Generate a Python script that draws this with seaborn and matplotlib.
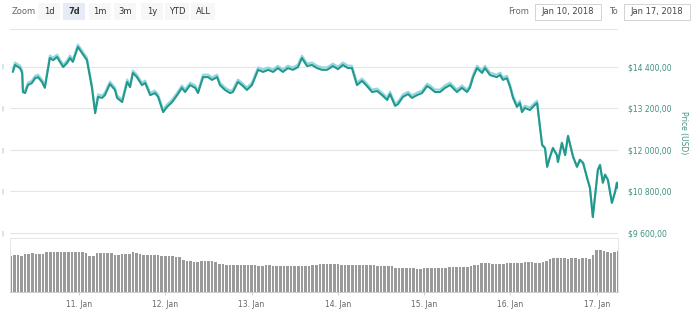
import numpy as np
import pandas as pd
import matplotlib
matplotlib.use('Agg')
import matplotlib.pyplot as plt
from matplotlib.patches import Rectangle
from matplotlib.lines import Line2D
import seaborn as sns

# hours since 10 Jan 2018 00:00
hours = [5.6, 6.2, 7.6, 8.2, 8.4, 9.0, 9.8, 10.9, 11.8, 12.6,
         13.7, 14.5, 15.9, 16.8, 17.9, 18.7, 19.6, 20.7, 21.5, 22.3,
         23.7, 24.8, 26.2, 27.6, 28.5, 29.3, 30.4, 31.2, 32.6, 34.0,
         34.6, 36.0, 37.4, 38.2, 39.0, 40.1, 41.5, 42.4, 43.8, 45.1,
         46.0, 47.4, 48.5, 49.9, 51.3, 52.6, 53.5, 54.9, 56.3, 57.1,
         58.5, 59.9, 61.0, 62.4, 63.2, 64.6, 66.0, 66.8, 68.2, 69.3,
         70.7, 72.1, 73.8, 75.2, 76.6, 78.0, 79.3, 80.7, 82.1, 83.5,
         84.9, 86.0, 87.4, 88.8, 90.2, 91.6, 93.0, 94.6, 96.0, 97.4,
         98.8, 99.9, 101.3, 102.7, 104.1, 105.5, 106.9, 108.3, 109.7, 110.5,
         111.9, 112.7, 114.1, 115.5, 116.6, 118.0, 119.4, 120.8, 121.6, 123.0,
         124.4, 125.8, 127.2, 129.1, 130.5, 131.9, 132.7, 133.6, 134.7, 136.1,
         136.9, 138.3, 140.2, 141.1, 141.9, 143.0, 143.9, 144.7, 145.8, 146.6,
         147.2, 148.0, 149.4, 150.8, 151.4, 152.2, 152.8, 153.6, 154.2, 155.0,
         155.8, 156.9, 157.2, 158.3, 159.2, 160.0, 161.4, 162.5, 163.3, 164.2,
         165.3, 166.1, 166.9, 167.5, 168.3, 168.9, 169.7, 170.3, 171.1, 172.2,
         173.1, 173.6, 173.9]

price_main = [14250, 14450, 14360, 14220, 13670, 13640, 13870, 13930, 14070, 14100,
              13960, 13790, 14650, 14590, 14680, 14540, 14390, 14510, 14650, 14540,
              14970, 14800, 14590, 13790, 13060, 13530, 13500, 13580, 13900, 13730,
              13500, 13380, 13960, 13810, 14220, 14100, 13870, 13930, 13580, 13640,
              13530, 13090, 13240, 13380, 13580, 13790, 13670, 13870, 13790, 13640,
              14100, 14100, 14020, 14100, 13870, 13730, 13640, 13670, 13960, 13870,
              13730, 13870, 14310, 14250, 14310, 14250, 14360, 14250, 14360, 14310,
              14390, 14650, 14420, 14450, 14360, 14310, 14310, 14420, 14330, 14450,
              14360, 14360, 13870, 13990, 13840, 13670, 13700, 13580, 13440, 13610,
              13270, 13320, 13530, 13610, 13500, 13580, 13640, 13840, 13790, 13670,
              13670, 13790, 13870, 13670, 13790, 13670, 13790, 14100, 14360, 14220,
              14360, 14160, 14100, 14160, 14020, 14070, 13810, 13500, 13240, 13350,
              13090, 13210, 13150, 13300, 13350, 12660, 12140, 12050, 11510, 11800,
              12050, 11850, 11650, 12200, 11850, 12400, 11800, 11510, 11710, 11620,
              11190, 10900, 10060, 10640, 11420, 11560, 11050, 11280, 11130, 10470,
              10790, 11050, 10900]

price_alt = [14320, 14520, 14430, 14290, 13740, 13710, 13940, 14000, 14140, 14170,
             14030, 13860, 14720, 14660, 14750, 14610, 14460, 14580, 14720, 14610,
             15040, 14870, 14660, 13860, 13130, 13600, 13570, 13650, 13970, 13800,
             13570, 13450, 14030, 13880, 14290, 14170, 13940, 14000, 13650, 13710,
             13600, 13160, 13310, 13450, 13650, 13860, 13740, 13940, 13860, 13710,
             14170, 14170, 14090, 14170, 13940, 13800, 13710, 13740, 14030, 13940,
             13800, 13940, 14380, 14320, 14380, 14320, 14430, 14320, 14430, 14380,
             14460, 14720, 14490, 14520, 14430, 14380, 14380, 14490, 14400, 14520,
             14430, 14430, 13940, 14060, 13910, 13740, 13770, 13650, 13510, 13680,
             13340, 13390, 13600, 13680, 13570, 13650, 13710, 13910, 13860, 13740,
             13740, 13860, 13940, 13740, 13860, 13740, 13860, 14170, 14430, 14290,
             14430, 14230, 14170, 14230, 14090, 14140, 13880, 13570, 13310, 13420,
             13160, 13280, 13220, 13370, 13420, 12675, 12155, 12065, 11525, 11815,
             12065, 11865, 11665, 12215, 11865, 12415, 11815, 11525, 11725, 11635,
             11205, 10915, 10075, 10655, 11435, 11575, 11065, 11295, 11145, 10485,
             10805, 11065, 10915]

# hourly volume (relative units), first bar at 10 Jan 05:00
vol_start_hour = 5
volume = [36.5, 37, 37, 36.5,
          38.5, 38.5, 39, 38.5, 38.5, 38.5,
          40, 40.5, 40.5, 40.5, 40.5, 40.5, 40.5, 40.5, 40.5, 40, 40, 39.5,
          36.5, 36,
          39, 39.5, 39.5, 39.5, 39,
          37, 37,
          38, 38, 38.5,
          40, 39.5,
          38, 37.5, 37.5, 37.5, 37.5, 37,
          36, 36, 36, 36, 35.5, 35.5,
          32, 31, 31, 30.5, 30.5,
          31, 31, 31, 31, 30.5,
          28, 28, 27.5,
          27, 27, 27, 27, 27, 27, 27,
          27, 26.5, 26.5, 27, 27, 26.5, 26.5, 26.5, 26.5, 26.5, 26.5, 26, 26, 26, 26.5, 26.5, 27, 27.5,
          28, 28, 28, 28, 28, 28, 27.5, 27.5, 27.5, 27,
          27, 27, 27, 27, 27, 27, 26.5, 26.5, 26.5, 26.5, 26,
          24.5, 24, 24, 24, 24, 24, 23.5, 23.5, 24, 24, 24, 24, 24, 24, 24.5,
          25, 25.5, 25.5, 25.5, 25.5, 25.5, 26,
          27, 27.5,
          29, 29, 29, 28.5, 28.5, 28.5, 28.5, 29, 29, 29,
          29.5, 29.5, 30, 30, 30, 29.5, 29.5, 30.5,
          31.5, 33,
          34.5, 34, 34, 34, 33.5, 34, 34, 33.5, 34.5, 34, 33.5,
          37,
          42, 42, 41, 40, 39.5, 40.5, 41]

price_ticks = [9600, 10800, 12000, 13200, 14400]
price_labels = ['$9 600,00', '$10 800,00', '$12 000,00', '$13 200,00', '$14 400,00']
day_ticks = [24, 48, 72, 96, 120, 144, 168]
day_labels = ['11. Jan', '12. Jan', '13. Jan', '14. Jan', '15. Jan', '16. Jan', '17. Jan']
buttons = ['1d', '7d', '1m', '3m', '1y', 'YTD', 'ALL']
selected_button = '7d'
date_from = 'Jan 10, 2018'
date_to = 'Jan 17, 2018'

sns.set_theme(style='white')
plt.rcParams['font.family'] = ['DejaVu Sans']

W, H = 700, 319
fig = plt.figure(figsize=(W / 100, H / 100), dpi=100)


def px_axes(x0, y0, x1, y1):
    return fig.add_axes([x0 / W, 1 - y1 / H, (x1 - x0) / W, (y1 - y0) / H])


def fx(x):
    return x / W


def fy(y):
    return 1 - y / H


xlim = (4.81, 173.9)

# ---- price pane
ax = px_axes(10, 36, 618, 236)
n = len(hours)
df = pd.DataFrame({'hour': hours * 2,
                   'price': price_alt + price_main,
                   'series': ['alt'] * n + ['main'] * n})
sns.lineplot(data=df, x='hour', y='price', hue='series',
             palette={'alt': '#92d5e3', 'main': '#22998a'},
             linewidth=1.5, legend=False, ax=ax)
ax.set_xlim(*xlim)
ax.set_ylim(9516, 15286)
ax.set_yticks(price_ticks)
ax.set_yticklabels(price_labels)
ax.yaxis.tick_right()
ax.tick_params(axis='y', length=0, pad=7, labelsize=5.5, labelcolor='#3f8f80')
ax.set_xticks([])
ax.set_xlabel('')
ax.set_ylabel('')
ax.grid(axis='y', color='#e6e6e6', linewidth=0.8)
ax.set_axisbelow(True)
for s in ax.spines.values():
    s.set_visible(False)
# clipped labels of the hidden left axis
for v in price_ticks:
    ax.text(-0.0132, v, '|', transform=ax.get_yaxis_transform(), color='#5b9bd5',
            fontsize=4, ha='center', va='center', clip_on=False)

fig.text(fx(683), fy(133), 'Price (USD)', rotation=270, ha='center', va='center',
         fontsize=5.5, color='#3f8f80')

# ---- volume pane
axv = px_axes(10, 238, 618, 292)
vol_hours = np.arange(len(volume)) + vol_start_hour
axv.bar(vol_hours, volume, width=0.72, color='#9a9a9a', linewidth=0)
axv.set_xlim(*xlim)
axv.set_ylim(0, 54)
axv.set_yticks([])
axv.set_xticks(day_ticks)
axv.set_xticklabels(day_labels)
axv.tick_params(axis='x', bottom=True, length=2.5, width=0.6, color='#cccccc',
                pad=3, labelsize=5.5, labelcolor='#666666')
for name, s in axv.spines.items():
    s.set_color('#e6e6e6' if name != 'bottom' else '#cccccc')
    s.set_linewidth(0.7)

# ---- range selector / inputs
fig.text(fx(12), fy(12), 'Zoom', fontsize=6, color='#666666', va='center', ha='left')
centers = [49, 74, 100, 125, 152, 177, 203]
for lab, cx in zip(buttons, centers):
    w = 22 if len(lab) < 3 else 24
    fc = '#e6ebf5' if lab == selected_button else '#f7f7f7'
    fig.add_artist(Rectangle((fx(cx - w / 2), fy(20)), w / W, 17 / H,
                             transform=fig.transFigure, facecolor=fc, edgecolor='none'))
    fig.text(fx(cx), fy(12), lab, fontsize=6, color='#333333', ha='center', va='center',
             fontweight='bold' if lab == selected_button else 'normal')

fig.text(fx(519), fy(12), 'From', fontsize=6, color='#666666', ha='center', va='center')
fig.text(fx(613), fy(12), 'To', fontsize=6, color='#666666', ha='center', va='center')
for x0, x1, txt in [(535, 601, date_from), (624, 690, date_to)]:
    fig.add_artist(Rectangle((fx(x0), fy(20)), (x1 - x0) / W, 16 / H,
                             transform=fig.transFigure, facecolor='white',
                             edgecolor='#cccccc', linewidth=0.6))
    fig.text(fx((x0 + x1) / 2), fy(12), txt, fontsize=6, color='#444444',
             ha='center', va='center')

fig.add_artist(Line2D([fx(10), fx(617)], [fy(29), fy(29)], transform=fig.transFigure,
                      color='#e6e6e6', linewidth=0.8))

fig.savefig('out.png', dpi=100)
